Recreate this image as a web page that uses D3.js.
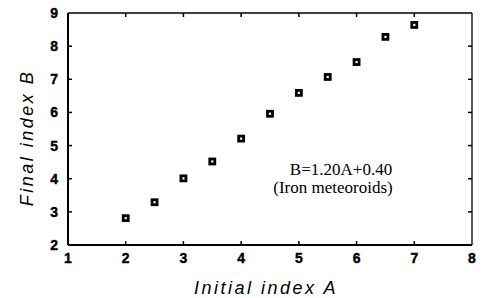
<!DOCTYPE html>
<meta charset="utf-8">
<style>
body { margin: 0; background: white; }
text { fill: black; }
.tick-label { font-family: "Liberation Sans", Arial, sans-serif; font-weight: bold; font-size: 14px; stroke: black; stroke-width: 0.4px; }
.axis-title { font-family: "Liberation Sans", Arial, sans-serif; font-style: italic; font-size: 18px; letter-spacing: 2.5px; }
.note { font-family: "Liberation Serif", "Times New Roman", serif; font-size: 17px; }
</style>
<div id="chart"></div>
<script src="https://d3js.org/d3.v7.min.js"></script>
<script>
// values
var initialA = [2, 2.5, 3, 3.5, 4, 4.5, 5, 5.5, 6, 6.5, 7];
var finalB = [2.81, 3.29, 4.01, 4.52, 5.21, 5.96, 6.59, 7.07, 7.52, 8.28, 8.64];
var xTicks = [1, 2, 3, 4, 5, 6, 7, 8];
var yTicks = [2, 3, 4, 5, 6, 7, 8, 9];
var noteLines = ["B=1.20A+0.40", "(Iron meteoroids)"];

var width = 484, height = 298;
var margin = {top: 13, right: 12, bottom: 53, left: 68};

var svg = d3.select("#chart").append("svg")
  .attr("width", width)
  .attr("height", height);

var x = d3.scaleLinear().domain([1, 8]).range([margin.left, width - margin.right]);
var y = d3.scaleLinear().domain([2, 9]).range([height - margin.bottom, margin.top]);

// frame
svg.append("line").attr("x1", x(1)).attr("x2", x(8)).attr("y1", y(9)).attr("y2", y(9))
  .attr("stroke", "black").attr("stroke-width", 1.3);
svg.append("line").attr("x1", x(8)).attr("x2", x(8)).attr("y1", y(9)).attr("y2", y(2))
  .attr("stroke", "black").attr("stroke-width", 1.3);
svg.append("line").attr("x1", x(1)).attr("x2", x(8)).attr("y1", y(2)).attr("y2", y(2))
  .attr("stroke", "black").attr("stroke-width", 2);
svg.append("line").attr("x1", x(1)).attr("x2", x(1)).attr("y1", y(9)).attr("y2", y(2))
  .attr("stroke", "black").attr("stroke-width", 2);

// inward ticks on all four sides
var tl = 4;
var xt = xTicks.slice(1, -1);
var yt = yTicks.slice(1, -1);
svg.selectAll(".tb").data(xt).enter().append("line")
  .attr("x1", d => x(d)).attr("x2", d => x(d))
  .attr("y1", y(2)).attr("y2", y(2) - tl)
  .attr("stroke", "black").attr("stroke-width", 1.5);
svg.selectAll(".tt").data(xt).enter().append("line")
  .attr("x1", d => x(d)).attr("x2", d => x(d))
  .attr("y1", y(9)).attr("y2", y(9) + tl)
  .attr("stroke", "black").attr("stroke-width", 1.5);
svg.selectAll(".tl").data(yt).enter().append("line")
  .attr("x1", x(1)).attr("x2", x(1) + tl)
  .attr("y1", d => y(d)).attr("y2", d => y(d))
  .attr("stroke", "black").attr("stroke-width", 1.5);
svg.selectAll(".tr").data(yt).enter().append("line")
  .attr("x1", x(8)).attr("x2", x(8) - tl)
  .attr("y1", d => y(d)).attr("y2", d => y(d))
  .attr("stroke", "black").attr("stroke-width", 1.5);

// tick labels
svg.selectAll(".xl").data(xTicks).enter().append("text")
  .attr("class", "tick-label")
  .attr("x", d => x(d)).attr("y", y(2) + 18)
  .attr("text-anchor", "middle")
  .text(d => d);
svg.selectAll(".yl").data(yTicks).enter().append("text")
  .attr("class", "tick-label")
  .attr("x", x(1) - 10).attr("y", d => y(d) + 5)
  .attr("text-anchor", "end")
  .text(d => d);

// axis titles
svg.append("text").attr("class", "axis-title")
  .attr("x", 266).attr("y", 294)
  .attr("text-anchor", "middle")
  .text("Initial  index  A");
svg.append("text").attr("class", "axis-title")
  .attr("transform", "translate(33,138) rotate(-90)")
  .attr("text-anchor", "middle")
  .text("Final  index  B");

// data points
svg.selectAll(".pt").data(initialA).enter().append("rect")
  .attr("x", d => x(d) - 2.5)
  .attr("y", (d, i) => y(finalB[i]) - 2.5)
  .attr("width", 5).attr("height", 5)
  .attr("fill", "white")
  .attr("stroke", "black")
  .attr("stroke-width", 2.8);

// annotation
svg.selectAll(".note").data(noteLines).enter().append("text")
  .attr("class", "note")
  .attr("x", (d, i) => i == 0 ? 341 : 333)
  .attr("y", (d, i) => 175 + i * 18)
  .attr("text-anchor", "middle")
  .text(d => d);
</script>
